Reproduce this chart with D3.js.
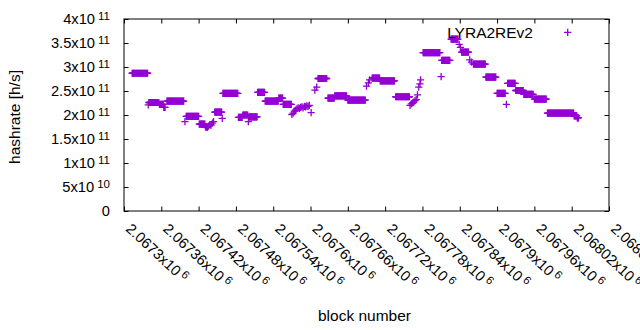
<!DOCTYPE html>
<html>
<head>
<meta charset="utf-8">
<script src="https://cdnjs.cloudflare.com/ajax/libs/d3/7.8.5/d3.min.js"></script>
<style>
  body { margin: 0; background: #fff; }
  text { font-family: "Liberation Sans", Arial, sans-serif; fill: #000; }
</style>
</head>
<body>
<svg class="chart"></svg>
<script>
/*
  DATA: hashrate per block, stored as runs where the rate
  stays constant (start block, end block, rate in h/s).
  Single points are runs with start == end.
*/
var runStart = [2067313, 2067339, 2067340, 2067357, 2067364, 2067369, 2067398, 2067400, 2067421, 2067431,
  2067434, 2067436, 2067438, 2067440, 2067442, 2067444,
  2067446, 2067458, 2067459, 2067484, 2067491, 2067500, 2067501, 2067515, 2067527, 2067549, 2067556,
  2067570, 2067572, 2067574, 2067576, 2067578, 2067580, 2067582, 2067584, 2067586, 2067588, 2067590, 2067592, 2067594, 2067596, 2067598,
  2067601, 2067607, 2067610, 2067612, 2067628, 2067639, 2067660, 2067690, 2067693, 2067695, 2067699, 2067712, 2067737,
  2067760, 2067762, 2067764, 2067766, 2067768, 2067770,
  2067772, 2067774, 2067776, 2067777, 2067781, 2067810, 2067811, 2067826, 2067839, 2067841, 2067843, 2067856, 2067859,
  2067862, 2067882, 2067900, 2067915, 2067917, 2067930, 2067943, 2067960, 2067981, 2068024, 2068029];
var runEnd = [2067338, 2067339, 2067356, 2067363, 2067366, 2067396, 2067398, 2067420, 2067430, 2067433,
  2067434, 2067436, 2067438, 2067440, 2067442, 2067444,
  2067457, 2067458, 2067483, 2067490, 2067499, 2067500, 2067514, 2067526, 2067548, 2067555, 2067569,
  2067570, 2067572, 2067574, 2067576, 2067578, 2067580, 2067582, 2067584, 2067586, 2067588, 2067590, 2067592, 2067594, 2067596, 2067598,
  2067601, 2067607, 2067610, 2067626, 2067638, 2067658, 2067688, 2067690, 2067693, 2067695, 2067711, 2067735, 2067759,
  2067760, 2067762, 2067764, 2067766, 2067768, 2067770,
  2067772, 2067774, 2067776, 2067777, 2067808, 2067810, 2067824, 2067837, 2067839, 2067841, 2067854, 2067856, 2067859,
  2067881, 2067898, 2067913, 2067915, 2067929, 2067942, 2067958, 2067979, 2068023, 2068028, 2068031];
var runRate = [2.87e11, 2.21e11, 2.26e11, 2.22e11, 2.16e11, 2.29e11, 1.86e11, 1.97e11, 1.81e11, 1.75e11,
  1.74e11, 1.77e11, 1.80e11, 1.79e11, 1.83e11, 1.86e11,
  2.06e11, 1.93e11, 2.45e11, 1.95e11, 2.00e11, 1.86e11, 1.96e11, 2.47e11, 2.29e11, 2.35e11, 2.22e11,
  2.01e11, 2.04e11, 2.08e11, 2.10e11, 2.13e11, 2.15e11, 2.14e11, 2.16e11, 2.17e11, 2.15e11, 2.18e11, 2.17e11, 2.19e11, 2.18e11, 2.20e11,
  2.05e11, 2.52e11, 2.58e11, 2.76e11, 2.35e11, 2.40e11, 2.31e11, 2.60e11, 2.67e11, 2.73e11, 2.77e11, 2.71e11, 2.38e11,
  2.20e11, 2.23e11, 2.25e11, 2.27e11, 2.30e11, 2.32e11,
  2.42e11, 2.58e11, 2.65e11, 2.73e11, 3.30e11, 2.80e11, 3.14e11, 3.58e11, 3.47e11, 3.41e11, 3.31e11, 3.15e11, 3.10e11,
  3.06e11, 2.79e11, 2.45e11, 2.22e11, 2.66e11, 2.51e11, 2.43e11, 2.33e11, 2.04e11, 1.98e11, 1.94e11];

// Tick values and their labels (mantissa + exponent)
var xTicks = [2067300, 2067360, 2067420, 2067480, 2067540, 2067600, 2067660,
  2067720, 2067780, 2067840, 2067900, 2067960, 2068020, 2068080];
var xTickMantissa = ["2.0673x10", "2.06736x10", "2.06742x10", "2.06748x10", "2.06754x10", "2.0676x10", "2.06766x10",
  "2.06772x10", "2.06778x10", "2.06784x10", "2.0679x10", "2.06796x10", "2.06802x10", "2.06808x10"];
var xTickExp = ["6", "6", "6", "6", "6", "6", "6", "6", "6", "6", "6", "6", "6", "6"];
var yTicks = [0, 5e10, 1e11, 1.5e11, 2e11, 2.5e11, 3e11, 3.5e11, 4e11];
var yTickMantissa = ["0", "5x10", "1x10", "1.5x10", "2x10", "2.5x10", "3x10", "3.5x10", "4x10"];
var yTickExp = ["", "10", "11", "11", "11", "11", "11", "11", "11"];
var seriesName = "LYRA2REv2";

/*
  SETUP: layout of the chart
*/
var color = "#9400d3",
  tickLen = 4.5,
  plusHalf = 3.6;
var margin = {top: 19, right: 31, bottom: 119, left: 124},
  width = 640 - margin.left - margin.right,
  height = 330 - margin.top - margin.bottom;
var chart = d3.select(".chart")
  .attr("width", width + margin.left + margin.right)
  .attr("height", height + margin.top + margin.bottom);
var body = chart.append("g")
  .attr("transform", "translate(" + margin.left + "," + margin.top + ")");

var x = d3.scaleLinear()
  .domain([xTicks[0], xTicks[xTicks.length - 1]])
  .range([0, width]);
var y = d3.scaleLinear()
  .domain([0, 4e11])
  .range([height, 0]);

// Expand the runs into one point per block
var points = [];
runStart.forEach(function(s, i) {
  for (var b = s; b <= runEnd[i]; b++) {
    points.push({block: b, rate: runRate[i]});
  }
});

// Tick marks on all four sides, pointing inwards
function tidy(g) {
  g.select(".domain").remove();
  g.selectAll(".tick line").attr("stroke", "#000");
}
body.append("g")
  .attr("transform", "translate(0," + height + ")")
  .call(d3.axisBottom(x).tickValues(xTicks).tickSizeInner(-tickLen).tickSizeOuter(0).tickFormat(""))
  .call(tidy);
body.append("g")
  .call(d3.axisTop(x).tickValues(xTicks).tickSizeInner(-tickLen).tickSizeOuter(0).tickFormat(""))
  .call(tidy);
body.append("g")
  .call(d3.axisLeft(y).tickValues(yTicks).tickSizeInner(-tickLen).tickSizeOuter(0).tickFormat(""))
  .call(tidy);
body.append("g")
  .attr("transform", "translate(" + width + ",0)")
  .call(d3.axisRight(y).tickValues(yTicks).tickSizeInner(-tickLen).tickSizeOuter(0).tickFormat(""))
  .call(tidy);

// Border
body.append("rect")
  .attr("width", width)
  .attr("height", height)
  .attr("fill", "none")
  .attr("stroke", "#000")
  .attr("stroke-width", 1);

// Y tick labels with superscript exponent
var yLab = body.selectAll(".ylab")
  .data(yTicks)
  .enter().append("text")
    .attr("class", "ylab")
    .attr("x", -14)
    .attr("y", function(d) { return y(d) + 5; })
    .attr("text-anchor", "end")
    .style("font-size", "14.7px");
yLab.append("tspan").text(function(d, i) { return yTickMantissa[i]; });
yLab.append("tspan")
  .attr("dx", 3)
  .attr("dy", -4.5)
  .style("font-size", "11.5px")
  .text(function(d, i) { return yTickExp[i]; });

// X tick labels, rotated
var xLab = body.selectAll(".xlab")
  .data(xTicks)
  .enter().append("text")
    .attr("class", "xlab")
    .attr("transform", function(d) { return "translate(" + (x(d) + 1) + "," + (height + 19) + ") rotate(43)"; })
    .attr("text-anchor", "start")
    .style("font-size", "14.7px");
xLab.append("tspan").text(function(d, i) { return xTickMantissa[i]; });
xLab.append("tspan")
  .attr("dx", 3)
  .attr("dy", -4.5)
  .style("font-size", "11.5px")
  .text(function(d, i) { return xTickExp[i]; });

// Data points drawn as "+" marks
body.append("g")
  .selectAll("path")
  .data(points)
  .enter().append("path")
    .attr("d", function(d) {
      var px = x(d.block), py = y(d.rate);
      return "M" + (px - plusHalf) + "," + py + "h" + (2 * plusHalf)
        + "M" + px + "," + (py - plusHalf) + "v" + (2 * plusHalf);
    })
    .attr("fill", "none")
    .attr("stroke", color)
    .attr("stroke-width", 1.3);

// Legend
chart.append("text")
  .attr("x", 533)
  .attr("y", 37.5)
  .attr("text-anchor", "end")
  .style("font-size", "15.5px")
  .text(seriesName);
chart.append("path")
  .attr("d", "M" + (567.7 - plusHalf) + ",32.3h" + (2 * plusHalf) + "M567.7," + (32.3 - plusHalf) + "v" + (2 * plusHalf))
  .attr("fill", "none")
  .attr("stroke", color)
  .attr("stroke-width", 1.3);

// Axis titles
chart.append("text")
  .attr("transform", "translate(20," + (margin.top + height / 2 + 2) + ") rotate(-90)")
  .attr("text-anchor", "middle")
  .style("font-size", "15.5px")
  .text("hashrate [h/s]");
chart.append("text")
  .attr("x", 364.5)
  .attr("y", 321)
  .attr("text-anchor", "middle")
  .style("font-size", "15.5px")
  .text("block number");
</script>
</body>
</html>
